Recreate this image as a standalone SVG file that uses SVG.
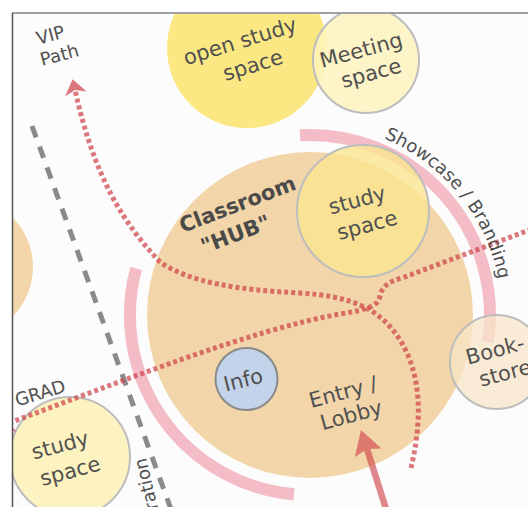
<svg xmlns="http://www.w3.org/2000/svg" width="528" height="507" viewBox="0 0 528 507">
<defs>
<style>
.lbl{font-family:"DejaVu Sans",Verdana,sans-serif;font-size:21px;fill:#505050;text-anchor:middle}
.sm{font-size:18px}
.bold{font-weight:bold;fill:#4a4a4a}
.zone{stroke:#bdbdbd;stroke-width:2}
.route{fill:none;stroke:#cf4048;stroke-width:5;stroke-dasharray:4 3;opacity:0.7}
.band{fill:none;stroke:#f4bcc7;stroke-width:12}
.tan{fill:#f2d6a9}
</style>
<clipPath id="frame"><rect x="12" y="13" width="516" height="494"/></clipPath>
<marker id="chev" markerUnits="userSpaceOnUse" viewBox="0 0 15 22" markerWidth="15" markerHeight="22" refX="4" refY="11" orient="auto-start-reverse"><path d="M0,0 L15,11 L0,22 L4,11 Z" fill="#cf4048"/></marker>
<marker id="bigchev" markerUnits="userSpaceOnUse" viewBox="0 0 24 28" markerWidth="24" markerHeight="28" refX="4" refY="14" orient="auto"><path d="M0,0 L24,14 L0,28 L4,14 Z" fill="#cf4048"/></marker>
<path id="showPath" d="M 384 138.5 A 192 192 0 0 1 502 315"/>
</defs>
<rect x="0" y="0" width="528" height="507" fill="#ffffff"/>
<g clip-path="url(#frame)">
<rect x="12" y="13" width="516" height="494" fill="#fcfcfc"/>
<g id="left-zone"><circle cx="-37" cy="267" r="70" class="tan"/></g>
<g id="open-study"><circle cx="247" cy="48" r="80" fill="#fbe883"/></g>
<g id="meeting"><circle cx="366" cy="60" r="53" fill="#fdf2bd" fill-opacity="0.85" class="zone"/></g>
<g id="hub"><circle cx="310" cy="315" r="163" class="tan"/></g>
<g id="showcase-band"><path class="band" d="M 300 135.3 A 180 180 0 0 1 487.9 342.2"/></g>
<g id="left-band"><path class="band" d="M 294 494.3 A 180 180 0 0 1 136.1 268.4"/></g>
<g id="hub-study"><circle cx="363" cy="211" r="66" fill="#fae58f" fill-opacity="0.8" class="zone"/></g>
<g id="info"><circle cx="246.5" cy="379" r="31" fill="#c3d4ea" stroke="#8a8a8a" stroke-width="2"/></g>
<g id="bookstore"><circle cx="497" cy="362" r="47" fill="#f8e6c8" fill-opacity="0.75" class="zone"/></g>
<g id="grad-study"><circle cx="70" cy="457" r="60" fill="#fdf3c0" class="zone"/></g>
<g id="connectors">
<line x1="32" y1="126" x2="172" y2="512" stroke="#8a8a8a" stroke-width="5" stroke-dasharray="12 10"/>
<path class="route" d="M 411 468 C 420 430, 425 380, 400 340 C 380 308, 350 296, 300 293 C 240 290, 190 283, 160 262 C 125 225, 95 180, 75 90" marker-end="url(#chev)"/>
<path class="route" d="M 9 423 C 120 382, 250 330, 340 314 C 370 309, 378 306, 380 296 C 382 286, 390 281, 402 278 L 532 229" marker-start="url(#chev)"/>
<path d="M 387 512 L 367 449" fill="none" stroke="#cf4048" stroke-width="6.5" opacity="0.62" marker-end="url(#bigchev)"/>
</g>
<g id="labels">
<text class="lbl sm" x="52" y="41" transform="rotate(-15 52 41)">VIP</text>
<text class="lbl sm" x="61" y="61" transform="rotate(-15 61 61)">Path</text>
<text class="lbl" x="242" y="48" transform="rotate(-17 242 48)">open study</text>
<text class="lbl" x="255" y="72" transform="rotate(-17 255 72)">space</text>
<text class="lbl" x="363" y="57" transform="rotate(-15 363 57)">Meeting</text>
<text class="lbl" x="373" y="80" transform="rotate(-15 373 80)">space</text>
<text class="lbl bold" x="240" y="211" transform="rotate(-21 240 211)">Classroom</text>
<text class="lbl bold" x="238" y="241" transform="rotate(-21 238 241)">"HUB"</text>
<text class="lbl" x="359" y="207" transform="rotate(-15 359 207)">study</text>
<text class="lbl" x="369" y="232" transform="rotate(-15 369 232)">space</text>
<text class="lbl" x="245" y="387" transform="rotate(-14 245 387)">Info</text>
<text class="lbl" x="345" y="399" transform="rotate(-15 345 399)">Entry /</text>
<text class="lbl" x="353" y="422" transform="rotate(-15 353 422)">Lobby</text>
<text class="lbl" x="497" y="357" transform="rotate(-15 497 357)">Book-</text>
<text class="lbl" x="507" y="380" transform="rotate(-15 507 380)">store</text>
<text class="lbl sm" x="42" y="399" transform="rotate(-17 42 399)">GRAD</text>
<text class="lbl" x="62" y="452" transform="rotate(-15 62 452)">study</text>
<text class="lbl" x="72" y="478" transform="rotate(-15 72 478)">space</text>
<text class="lbl sm" x="146" y="457" style="text-anchor:end" transform="rotate(-103 146 457)">ration</text>
<text class="lbl sm" style="text-anchor:start"><textPath href="#showPath">Showcase / Branding</textPath></text>
</g>
</g>
<line x1="12" y1="13" x2="528" y2="13" stroke="#a0a0a0" stroke-width="2"/>
<line x1="12.5" y1="13" x2="12.5" y2="507" stroke="#555555" stroke-width="1.5"/>
</svg>
